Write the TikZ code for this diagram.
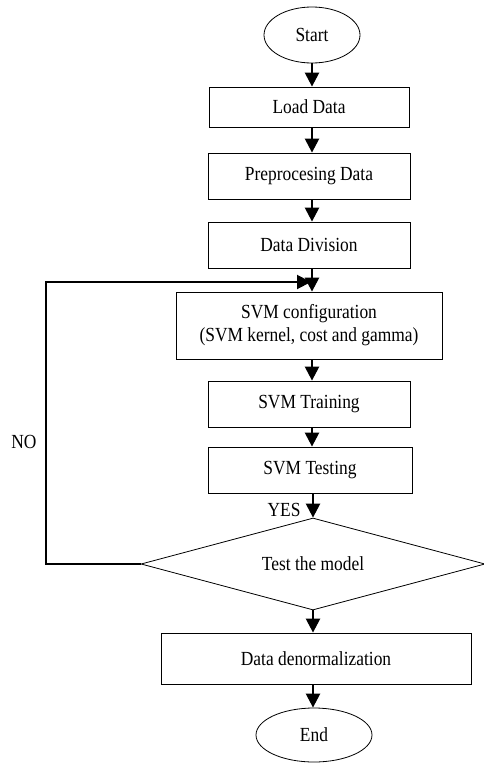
\documentclass[tikz,border=0pt]{standalone}
\usepackage{fontspec}
\setmainfont[FakeStretch=0.87]{Liberation Serif}
\usetikzlibrary{shapes.geometric,arrows.meta}
\begin{document}
\begin{tikzpicture}[x=1pt,y=1pt,
  txt/.style={font=\fontsize{20}{23}\selectfont},
  box/.style={draw,line width=0.8pt,rectangle,inner sep=0pt,txt,align=center},
  term/.style={draw,line width=0.8pt,ellipse,inner sep=0pt,txt},
  dec/.style={draw,line width=0.8pt,diamond,inner sep=0pt,aspect=3.74,txt},
  lbl/.style={inner sep=0pt,txt},
  flow/.style={line width=2.4pt,-{Triangle[length=14pt,width=14pt]}},
  loop/.style={line width=2pt}]
\useasboundingbox (0,0) rectangle (483,-763);
\node[term,minimum width=96,minimum height=56] (start) at (312,-35) {Start};
\node[box,minimum width=200,minimum height=40] (load) at (309,-107) {Load Data};
\node[box,minimum width=202,minimum height=46] (prep) at (309,-176) {Preprocesing Data};
\node[box,minimum width=202,minimum height=46] (div) at (309,-245) {Data Division};
\node[box,minimum width=266,minimum height=67] (cfg) at (309,-325.5) {SVM configuration\\(SVM kernel, cost and gamma)};
\node[box,minimum width=202,minimum height=46] (train) at (309,-404) {SVM Training};
\node[box,minimum width=204,minimum height=46] (test) at (310,-470) {SVM Testing};
\node[dec,minimum width=344,minimum height=92] (model) at (313,-564) {Test the model};
\node[box,minimum width=310,minimum height=51] (denorm) at (316,-658.5) {Data denormalization};
\node[term,minimum width=116,minimum height=54] (end) at (314,-735) {End};
\node[lbl] (yes) at (284,-510) {YES};
\node[lbl] (no) at (24,-442) {NO};
\coordinate (l1) at (46,-564);
\coordinate (l2) at (46,-282);
\coordinate (l3) at (311,-282);
\draw[flow] (start.south) -- (start.south |- load.north);
\draw[flow] (start.south |- load.south) -- (start.south |- prep.north);
\draw[flow] (start.south |- prep.south) -- (start.south |- div.north);
\draw[flow] (start.south |- div.south) -- (start.south |- cfg.north);
\draw[flow] (start.south |- cfg.south) -- (start.south |- train.north);
\draw[flow] (start.south |- train.south) -- (start.south |- test.north);
\draw[flow] (model.north |- test.south) -- (model.north);
\draw[flow] (model.south) -- (model.south |- denorm.north);
\draw[flow] (model.south |- denorm.south) -- (model.south |- end.north);
\draw[loop,-{Triangle[length=14pt,width=14pt]}] (model.west) -- (l1) -- (l2) -- (l3);
\end{tikzpicture}
\end{document}
